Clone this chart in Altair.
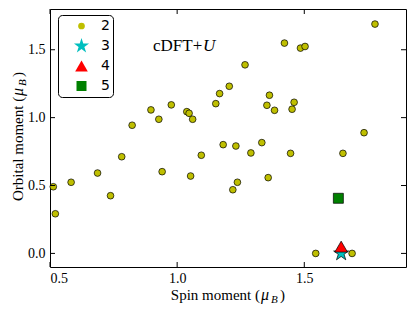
import altair as alt
import pandas as pd
import numpy as np

# ---- data ----
s2_x = [0.513, 0.521, 0.583, 0.687, 0.738, 0.782, 0.823, 0.897, 0.928, 0.941,
        0.977, 1.038, 1.047, 1.053, 1.061, 1.095, 1.152, 1.167, 1.181, 1.205,
        1.219, 1.231, 1.237, 1.267, 1.290, 1.333, 1.353, 1.358, 1.363, 1.383,
        1.422, 1.446, 1.452, 1.460, 1.485, 1.503, 1.545, 1.652, 1.688, 1.735, 1.778]
s2_y = [0.491, 0.292, 0.524, 0.592, 0.425, 0.712, 0.944, 1.057, 0.988, 0.602,
        1.094, 1.044, 1.032, 0.570, 0.988, 0.723, 1.103, 1.177, 0.801, 1.231,
        0.469, 0.791, 0.524, 1.389, 0.740, 0.816, 1.091, 0.558, 1.165, 1.054,
        1.549, 0.737, 1.062, 1.113, 1.512, 1.524, 0.000, 0.737, 0.000, 0.889, 1.689]
s3_x = [1.645]
s3_y = [0.0]
s4_x = [1.645]
s4_y = [0.05]
s5_x = [1.634]
s5_y = [0.406]
series_names = ["2", "3", "4", "5"]
x_ticks = [0.5, 1.0, 1.5]
y_ticks = [0.0, 0.5, 1.0, 1.5]

rows = []
for name, xs_, ys_ in [("2", s2_x, s2_y), ("3", s3_x, s3_y), ("4", s4_x, s4_y), ("5", s5_x, s5_y)]:
    for a, b in zip(xs_, ys_):
        rows.append({"x": a, "y": b, "series": name})
df = pd.DataFrame(rows)

# ---- styles ----
pts = []
for k in range(10):
    r = 1.0 if k % 2 == 0 else 0.382
    ang = -np.pi / 2 + k * np.pi / 5
    pts.append((r * np.cos(ang), r * np.sin(ang)))
star = "M" + " L".join(f"{px:.3f},{py:.3f}" for px, py in pts) + " Z"

colors = ["#bfbf00", "#00bfbf", "#ff0000", "#008000"]
shapes = ["circle", star, "triangle-up", "square"]
sizes = [45, 250, 160, 100]

W, H = 356, 258
SERIF = "Liberation Serif"

xs = alt.Scale(domain=[0.5, 1.9], nice=False, zero=False)
ys = alt.Scale(domain=[-0.1, 1.8], nice=False, zero=False)

ax_x = alt.Axis(values=x_ticks, format=".1f", title=None, ticks=False, domain=False, grid=False,
                labelFont=SERIF, labelFontSize=14, labelPadding=4, labelColor="black")
ax_y = alt.Axis(values=y_ticks, format=".1f", title=None, ticks=False, domain=False, grid=False,
                labelFont=SERIF, labelFontSize=14, labelPadding=5, labelColor="black")

leg = alt.Legend(title=None, orient="none", legendX=8, legendY=6,
                 fillColor="white", strokeColor="black", cornerRadius=4,
                 padding=3, labelFont="DejaVu Sans", labelFontSize=14,
                 labelColor="black", symbolStrokeColor="black",
                 symbolStrokeWidth=0.7, symbolOpacity=1, rowPadding=4,
                 clipHeight=16, gridAlign="all", symbolOffset=12, labelOffset=11)

points = alt.Chart(df).mark_point(filled=True, stroke="black", strokeWidth=0.7, opacity=1).encode(
    x=alt.X("x:Q", scale=xs, axis=ax_x),
    y=alt.Y("y:Q", scale=ys, axis=ax_y),
    color=alt.Color("series:N", scale=alt.Scale(domain=series_names, range=colors), legend=leg),
    shape=alt.Shape("series:N", scale=alt.Scale(domain=series_names, range=shapes), legend=leg),
    size=alt.Size("series:N", scale=alt.Scale(type="ordinal", domain=series_names, range=sizes), legend=leg),
)

xt = pd.DataFrame({"t": x_ticks})
yt = pd.DataFrame({"t": y_ticks})
tb = alt.Chart(xt).mark_rule(color="black").encode(x=alt.X("t:Q", scale=xs, axis=ax_x), y=alt.value(H), y2=alt.value(H - 5))
tt = alt.Chart(xt).mark_rule(color="black").encode(x=alt.X("t:Q", scale=xs, axis=ax_x), y=alt.value(0), y2=alt.value(5))
tl = alt.Chart(yt).mark_rule(color="black").encode(y=alt.Y("t:Q", scale=ys, axis=ax_y), x=alt.value(0), x2=alt.value(5))
tr = alt.Chart(yt).mark_rule(color="black").encode(y=alt.Y("t:Q", scale=ys, axis=ax_y), x=alt.value(W), x2=alt.value(W - 5))


def txt(s, x, y, size=15, style="normal", align="left", angle=0):
    return alt.Chart(pd.DataFrame({"t": [s]})).mark_text(
        font=SERIF, fontSize=size, fontStyle=style, align=align, baseline="alphabetic",
        angle=angle, color="black").encode(text="t:N", x=alt.value(x), y=alt.value(y))


texts = [
    txt("cDFT+", 103, 42, size=17),
    txt("U", 153, 42, size=17, style="italic"),
    txt("Spin moment (", 210, 291, align="right"),
    txt("μ", 211, 291, size=16, style="italic"),
    txt("B", 221, 294, size=11, style="italic"),
    txt(")", 230, 291),
    txt("Orbital moment (", -27, 192, angle=270),
    txt("μ", -27, 87, size=16, style="italic", angle=270),
    txt("B", -24, 77, size=11, style="italic", angle=270),
    txt(")", -27, 68, angle=270),
]

chart = alt.layer(points, tb, tt, tl, tr, *texts).properties(
    width=W, height=H,
    padding={"left": 42, "top": 1, "right": 1, "bottom": 42},
    autosize=alt.AutoSizeParams(type="none"),
).configure_view(stroke="black", strokeWidth=1)

chart.save("out.html", embed_options={"renderer": "svg", "actions": False})
